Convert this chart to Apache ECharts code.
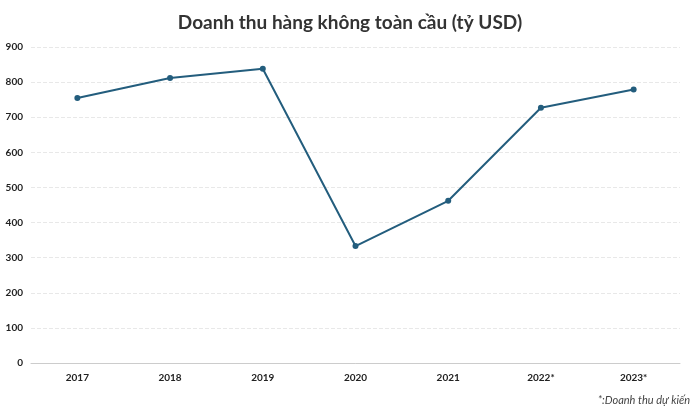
<!DOCTYPE html>
<html>
<head>
<meta charset="utf-8">
<script src="https://cdn.jsdelivr.net/npm/echarts@6/dist/echarts.min.js"></script>
<style>
  html, body { margin: 0; padding: 0; background: #fff; }
  #chart { width: 700px; height: 414px; }
</style>
</head>
<body>
<div id="chart"></div>
<script>
var years = ["2017", "2018", "2019", "2020", "2021", "2022*", "2023*"];
var revenue = [755, 812, 838, 333, 462, 727, 779];

var chart = echarts.init(document.getElementById("chart"));

var option = {
  textStyle: { fontFamily: "Lato" },
  title: {
    text: "Doanh thu hàng không toàn cầu (tỷ USD)",
    left: "center",
    top: 8,
    textStyle: { fontSize: 19, fontWeight: "bold", color: "#333", fontFamily: "Lato" }
  },
  grid: { left: 31, right: 20, top: 47, bottom: 51 },
  xAxis: {
    type: "category",
    data: years,
    axisLine: { lineStyle: { color: "#ccc" } },
    axisTick: { show: false },
    axisLabel: { color: "#222", fontSize: 10, fontWeight: "bold", margin: 10 }
  },
  yAxis: {
    type: "value",
    min: 0,
    max: 900,
    interval: 100,
    axisLine: { show: false },
    axisTick: { show: false },
    splitLine: { lineStyle: { color: "#e8e8e8", type: "dashed" } },
    axisLabel: { color: "#222", fontSize: 10, fontWeight: "bold", margin: 8 }
  },
  graphic: [{
    type: "text",
    right: 10,
    bottom: 8,
    style: { text: "*:Doanh thu dự kiến", fill: "#444", font: "italic 11px Lato" }
  }],
  series: [{
    type: "line",
    data: revenue,
    symbol: "circle",
    symbolSize: 6,
    color: "#235d7d",
    lineStyle: { width: 2, color: "#235d7d" }
  }]
};

chart.setOption(option);
</script>
</body>
</html>
